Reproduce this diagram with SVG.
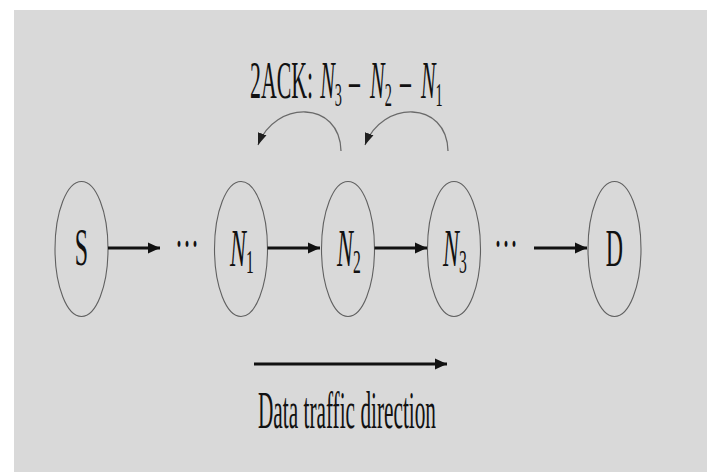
<svg xmlns="http://www.w3.org/2000/svg" width="707" height="472" viewBox="0 0 707 472">
  <style>
    .node { fill: none; stroke: #606060; stroke-width: 1.1; }
    .lbl { font-family: "Liberation Serif", "Times New Roman", serif; font-size: 52px; fill: #111111; }
    .it { font-style: italic; }
    .flow { stroke: #111111; stroke-width: 3; fill: none; }
    .ack { stroke: #6a6a6a; stroke-width: 1.3; fill: none; }
  </style>
  <defs>
    <marker id="head" markerUnits="userSpaceOnUse" markerWidth="13" markerHeight="13" refX="12" refY="6.5" orient="auto">
      <path d="M0,1 L12,6.5 L0,12 Z" fill="#111111"/>
    </marker>
    <marker id="ackHead" markerUnits="userSpaceOnUse" markerWidth="13" markerHeight="10" refX="12" refY="5" orient="auto">
      <path d="M0,0.5 L12,5 L0,9.5 Z" fill="#202020"/>
    </marker>
  </defs>

  <!-- canvas -->
  <rect x="0" y="0" width="707" height="472" fill="#ffffff"/>
  <rect x="14" y="10" width="693" height="462" fill="#d9d9d9"/>

  <!-- acknowledgement label -->
  <text class="lbl" transform="translate(250,98) scale(0.42,1)">2ACK:<tspan class="it" x="167">N</tspan><tspan font-size="34" dy="8">3</tspan><tspan x="236" dy="-8">–</tspan><tspan class="it" x="286">N</tspan><tspan font-size="34" dy="8">2</tspan><tspan x="357" dy="-8">–</tspan><tspan class="it" x="407">N</tspan><tspan font-size="34" dy="8">1</tspan></text>

  <!-- nodes -->
  <g id="node-S">
    <ellipse class="node" cx="81.5" cy="249" rx="26.5" ry="67.5"/>
    <text class="lbl" text-anchor="middle" transform="translate(81.5,265) scale(0.46,1)">S</text>
  </g>
  <g id="node-N1">
    <ellipse class="node" cx="241" cy="249" rx="26.5" ry="67.5"/>
    <text class="lbl" transform="translate(230,266) scale(0.46,1)"><tspan class="it">N</tspan><tspan font-size="34" dy="7">1</tspan></text>
  </g>
  <g id="node-N2">
    <ellipse class="node" cx="348" cy="249" rx="26.5" ry="67.5"/>
    <text class="lbl" transform="translate(337,266) scale(0.46,1)"><tspan class="it">N</tspan><tspan font-size="34" dy="7">2</tspan></text>
  </g>
  <g id="node-N3">
    <ellipse class="node" cx="454" cy="249" rx="26.5" ry="67.5"/>
    <text class="lbl" transform="translate(443,266) scale(0.46,1)"><tspan class="it">N</tspan><tspan font-size="34" dy="7">3</tspan></text>
  </g>
  <g id="node-D">
    <ellipse class="node" cx="614.5" cy="249" rx="26.5" ry="67.5"/>
    <text class="lbl" text-anchor="middle" transform="translate(614.5,266) scale(0.46,1)">D</text>
  </g>

  <!-- elided hops -->
  <text class="lbl" text-anchor="middle" transform="translate(187,261) scale(0.46,1)">···</text>
  <text class="lbl" text-anchor="middle" transform="translate(506,261) scale(0.46,1)">···</text>

  <!-- connectors -->
  <g id="connectors">
    <line class="flow" x1="108" y1="248" x2="160" y2="248" marker-end="url(#head)"/>
    <line class="flow" x1="267.5" y1="248" x2="320" y2="248" marker-end="url(#head)"/>
    <line class="flow" x1="374.5" y1="248" x2="427" y2="248" marker-end="url(#head)"/>
    <line class="flow" x1="534" y1="248" x2="587" y2="248" marker-end="url(#head)"/>
    <path class="ack" d="M341,151 C340,100 275,100 258,145" marker-end="url(#ackHead)"/>
    <path class="ack" d="M448,151 C447,100 382,100 365,145" marker-end="url(#ackHead)"/>
    <line class="flow" x1="254" y1="364" x2="447" y2="364" marker-end="url(#head)"/>
  </g>

  <!-- traffic direction caption -->
  <text class="lbl" x="258" y="428" textLength="178" lengthAdjust="spacingAndGlyphs" font-size="53">Data traffic direction</text>
</svg>
